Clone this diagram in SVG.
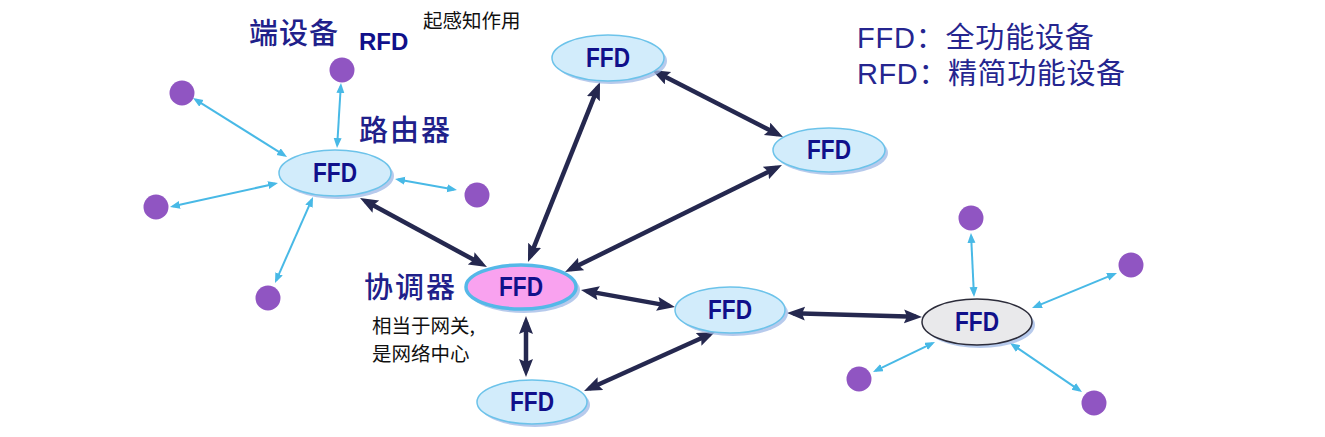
<svg xmlns="http://www.w3.org/2000/svg" width="1325" height="437" viewBox="0 0 1325 437">
<style>
.shadow{fill:#9fb8e6;opacity:0.75}
.ffd{fill:#d2ecfb;stroke:#6cc3ea;stroke-width:1.5}
.coord{fill:#f9a2ef;stroke:#55b8e8;stroke-width:3.5}
.gray{fill:#e9e9eb;stroke:#2c2c3a;stroke-width:1.5}
.lbl{font-family:"Liberation Sans",Arial,sans-serif;font-weight:bold;font-size:27px;fill:#10108a;text-anchor:middle}
.dot{fill:#9055c2}
.thick{stroke:#25284f;stroke-width:4.5;fill:none;marker-start:url(#big);marker-end:url(#big)}
.thin{stroke:#48b9e6;stroke-width:2;fill:none;marker-start:url(#small);marker-end:url(#small)}
.title{font-family:"Noto Sans CJK SC","Liberation Sans",sans-serif;font-weight:500;font-size:29px;fill:#20208a}
.note{font-family:"Noto Sans CJK SC","Liberation Sans",sans-serif;font-size:19.5px;fill:#111}
.legend{font-family:"Liberation Sans","Noto Sans CJK SC",sans-serif;font-size:29px;fill:#25258f}
</style>
<defs>
<marker id="big" markerUnits="userSpaceOnUse" markerWidth="20" markerHeight="16" refX="12" refY="7" orient="auto-start-reverse" viewBox="0 0 20 16">
<path d="M0,0 L18,7 L0,14 L3,7 Z" fill="#25284f"/>
</marker>
<marker id="small" markerUnits="userSpaceOnUse" markerWidth="12" markerHeight="9" refX="7" refY="4" orient="auto-start-reverse" viewBox="0 0 12 9">
<path d="M0,0 L10,4 L0,8 Z" fill="#48b9e6"/>
</marker>
</defs>
<rect width="1325" height="437" fill="#ffffff"/>

<g id="connectors">
<line class="thick" x1="365.3" y1="200.9" x2="481.7" y2="264.1"/>
<line class="thick" x1="530.2" y1="256.4" x2="597.8" y2="87.6"/>
<line class="thick" x1="657.3" y1="72.7" x2="777.7" y2="134.3"/>
<line class="thick" x1="570.4" y1="269.3" x2="776.6" y2="167.7"/>
<line class="thick" x1="586.9" y1="291.1" x2="669.1" y2="305.9"/>
<line class="thick" x1="526" y1="322" x2="526" y2="371"/>
<line class="thick" x1="709.5" y1="334.5" x2="589.5" y2="388.5"/>
<line class="thick" x1="793" y1="313.2" x2="916" y2="316.8"/>
<line class="thin" x1="337.2" y1="145" x2="340.8" y2="86"/>
<line class="thin" x1="284.5" y1="155.4" x2="195.5" y2="99.6"/>
<line class="thin" x1="275.1" y1="183.7" x2="172.9" y2="206.3"/>
<line class="thin" x1="398" y1="179.5" x2="454" y2="189.5"/>
<line class="thin" x1="311.8" y1="199.7" x2="276.2" y2="280.3"/>
<line class="thin" x1="973.9" y1="294" x2="971.1" y2="236"/>
<line class="thin" x1="1034.8" y1="306.9" x2="1114.2" y2="274.1"/>
<line class="thin" x1="932.3" y1="343.3" x2="875.7" y2="370.7"/>
<line class="thin" x1="1012.5" y1="344.7" x2="1079.5" y2="390.3"/>
</g>

<g id="router">
<ellipse class="shadow" cx="338" cy="176" rx="56" ry="23"/>
<ellipse class="ffd" cx="335" cy="173" rx="56" ry="23"/>
<text class="lbl" x="335" y="182" textLength="44" lengthAdjust="spacingAndGlyphs">FFD</text>
</g>
<g id="ffd-top">
<ellipse class="shadow" cx="611" cy="61" rx="56" ry="23"/>
<ellipse class="ffd" cx="608" cy="58" rx="56" ry="23"/>
<text class="lbl" x="608" y="67" textLength="44" lengthAdjust="spacingAndGlyphs">FFD</text>
</g>
<g id="ffd-right">
<ellipse class="shadow" cx="832" cy="153" rx="56" ry="22"/>
<ellipse class="ffd" cx="829" cy="150" rx="56" ry="22"/>
<text class="lbl" x="829" y="159" textLength="44" lengthAdjust="spacingAndGlyphs">FFD</text>
</g>
<g id="coordinator">
<ellipse class="shadow" cx="524" cy="290" rx="56" ry="23"/>
<ellipse class="coord" cx="521" cy="287" rx="55" ry="22"/>
<text class="lbl" x="521" y="296" textLength="44" lengthAdjust="spacingAndGlyphs">FFD</text>
</g>
<g id="ffd-mid">
<ellipse class="shadow" cx="733" cy="313" rx="55" ry="23"/>
<ellipse class="ffd" cx="730" cy="310" rx="55" ry="23"/>
<text class="lbl" x="730" y="319" textLength="44" lengthAdjust="spacingAndGlyphs">FFD</text>
</g>
<g id="ffd-bottom">
<ellipse class="shadow" cx="535" cy="405" rx="55" ry="22"/>
<ellipse class="ffd" cx="532" cy="402" rx="55" ry="22"/>
<text class="lbl" x="532" y="411" textLength="44" lengthAdjust="spacingAndGlyphs">FFD</text>
</g>
<g id="ffd-gray">
<ellipse class="shadow" cx="980" cy="325" rx="55" ry="23"/>
<ellipse class="gray" cx="977" cy="322" rx="55" ry="23"/>
<text class="lbl" x="977" y="331" textLength="44" lengthAdjust="spacingAndGlyphs">FFD</text>
</g>

<g id="rfd-1"><circle class="dot" cx="342" cy="70" r="12.5"/></g>
<g id="rfd-2"><circle class="dot" cx="182" cy="93" r="12.5"/></g>
<g id="rfd-3"><circle class="dot" cx="477" cy="195" r="12.5"/></g>
<g id="rfd-4"><circle class="dot" cx="156" cy="207" r="12.5"/></g>
<g id="rfd-5"><circle class="dot" cx="268" cy="298" r="12.5"/></g>
<g id="rfd-6"><circle class="dot" cx="971" cy="218" r="12.5"/></g>
<g id="rfd-7"><circle class="dot" cx="1131" cy="265" r="12.5"/></g>
<g id="rfd-8"><circle class="dot" cx="859" cy="379" r="12.5"/></g>
<g id="rfd-9"><circle class="dot" cx="1094" cy="403" r="12.5"/></g>

<g id="labels">
<text class="title" x="249" y="44" letter-spacing="1">端设备</text>
<text x="359" y="50" font-family="Liberation Sans, Arial, sans-serif" font-weight="bold" font-size="24" fill="#10108a">RFD</text>
<text class="note" x="423" y="28">起感知作用</text>
<text class="title" x="359" y="141" letter-spacing="2">路由器</text>
<text class="title" x="364" y="298" letter-spacing="2">协调器</text>
<text class="note" x="372" y="333">相当于网关,</text>
<text class="note" x="372" y="361">是网络中心</text>
<text class="legend" x="857" y="48" letter-spacing="0.8">FFD：全功能设备</text>
<text class="legend" x="857" y="84" letter-spacing="0.6">RFD：精简功能设备</text>
</g>
</svg>
